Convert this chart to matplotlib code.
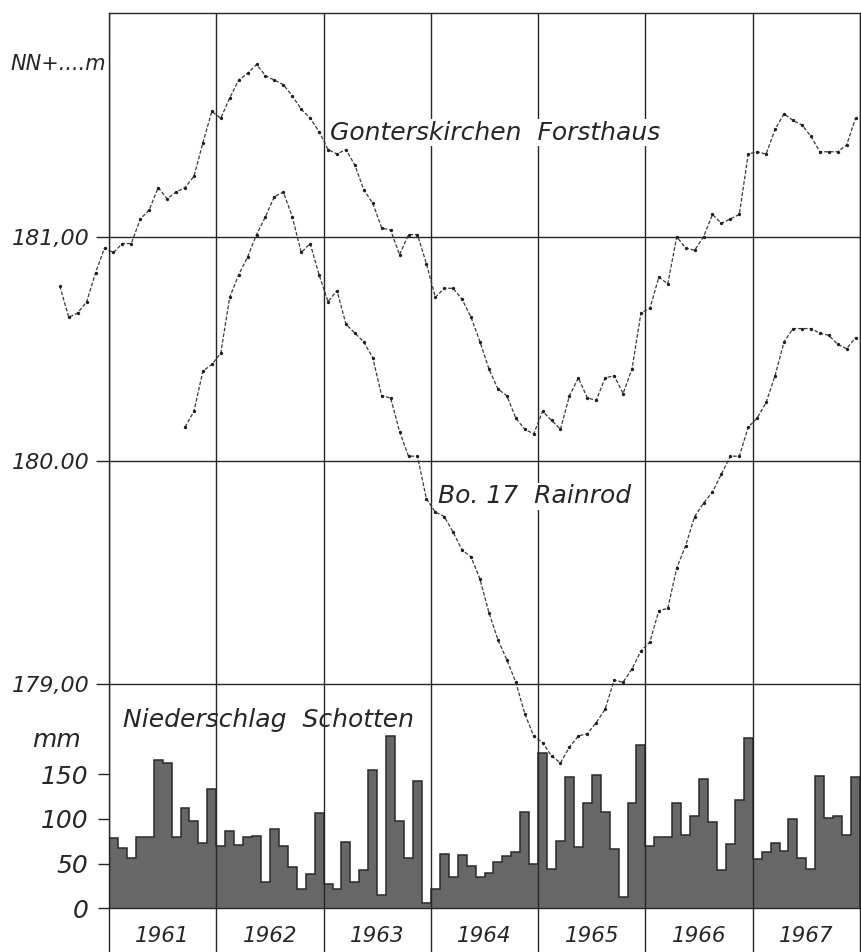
import matplotlib
matplotlib.use("Agg")
import matplotlib.pyplot as plt
import matplotlib.transforms as mtransforms
import numpy as np

plt.rcParams['font.family'] = ['DejaVu Sans']
plt.rcParams['font.style'] = 'italic'

# Grundwasserstand NN+ m, monatlich
gonter_start = 1960.5          # Juli 1960
gonter = [180.78, 180.64, 180.66, 180.71, 180.84, 180.95,
          180.93, 180.97, 180.97, 181.08, 181.12, 181.22, 181.17, 181.20, 181.22, 181.27, 181.42, 181.56,
          181.53, 181.62, 181.70, 181.73, 181.77, 181.72, 181.70, 181.68, 181.63, 181.57, 181.53, 181.47,
          181.39, 181.37, 181.39, 181.32, 181.21, 181.15, 181.04, 181.03, 180.92, 181.01, 181.01, 180.88,
          180.73, 180.77, 180.77, 180.72, 180.64, 180.53, 180.41, 180.32, 180.29, 180.19, 180.14, 180.12,
          180.22, 180.18, 180.14, 180.29, 180.37, 180.28, 180.27, 180.37, 180.38, 180.30, 180.41, 180.66,
          180.68, 180.82, 180.79, 181.00, 180.95, 180.94, 181.00, 181.10, 181.06, 181.08, 181.10, 181.37,
          181.38, 181.37, 181.48, 181.55, 181.52, 181.50, 181.45, 181.38, 181.38, 181.38, 181.41, 181.53]

rainrod_start = 1961 + 8 / 12  # Sept. 1961
rainrod = [180.15, 180.22, 180.40, 180.43,
           180.48, 180.73, 180.83, 180.91, 181.01, 181.09, 181.18, 181.20, 181.09, 180.93, 180.97, 180.83,
           180.71, 180.76, 180.61, 180.57, 180.53, 180.46, 180.29, 180.28, 180.13, 180.02, 180.02, 179.83,
           179.77, 179.75, 179.68, 179.60, 179.57, 179.47, 179.32, 179.20, 179.11, 179.01, 178.87, 178.77,
           178.74, 178.68, 178.65, 178.72, 178.77, 178.78, 178.83, 178.89, 179.02, 179.01, 179.07, 179.15,
           179.19, 179.33, 179.34, 179.52, 179.62, 179.75, 179.81, 179.86, 179.94, 180.02, 180.02, 180.15,
           180.19, 180.26, 180.38, 180.53, 180.59, 180.59, 180.59, 180.57, 180.56, 180.52, 180.50, 180.55]

# Niederschlag Schotten, mm pro Monat 1961-1967
precip_start = 1961.0
precip = [78, 67, 56, 80, 80, 166, 162, 80, 112, 98, 73, 133,
          70, 86, 71, 80, 81, 29, 89, 70, 46, 21, 38, 107,
          27, 21, 74, 29, 43, 155, 15, 192, 98, 56, 142, 6,
          21, 61, 35, 60, 47, 35, 39, 52, 58, 63, 108, 50,
          174, 44, 75, 147, 69, 118, 149, 108, 66, 13, 118, 182,
          70, 80, 80, 118, 82, 103, 144, 96, 43, 72, 121, 190,
          55, 63, 73, 64, 100, 56, 44, 148, 101, 103, 82, 147]

years = list(range(1961, 1969))
level_ticks = [179, 180, 181]
level_labels = ['179,00', '180.00', '181,00']
mm_ticks = [0, 50, 100, 150]


def month_x(start, n, mid=True):
    off = 0.5 if mid else 0.0
    return start + (np.arange(n) + off) / 12


fig = plt.figure(figsize=(8.61, 9.52), dpi=100)
ax = fig.add_axes([109 / 861, 43.7 / 952, 751 / 861, 895.3 / 952])
ax2 = ax.twinx()
ax.set_zorder(2)
ax2.set_zorder(1)
ax.patch.set_visible(False)

ink = '#262626'

# Niederschlag als Treppenflaeche
edges = month_x(precip_start, len(precip) + 1, mid=False)
ax2.stairs(precip, edges, fill=True, color='#676767', lw=0)
ax2.stairs(precip, edges, color='#2a2a2a', lw=1.1, baseline=0)
ax2.set_ylim(0, 1000)
ax2.yaxis.tick_left()
ax2.set_yticks(mm_ticks)
ax2.tick_params(axis='y', length=8, width=1, pad=7, labelsize=18, colors=ink)
for s in ax2.spines.values():
    s.set_visible(False)

# Grundwasserganglinien
line_kw = dict(color='#3a3a3a', lw=0.9, linestyle=(0, (3, 1.5)), marker='o', ms=2.4,
               mfc='#1e1e1e', mec='none', clip_on=False)
ax.plot(month_x(gonter_start, len(gonter)), gonter, **line_kw)
ax.plot(month_x(rainrod_start, len(rainrod)), rainrod, **line_kw)

ax.set_xlim(1961, 1968)
ax.set_ylim(178, 182)
ax.set_yticks(level_ticks, level_labels)
ax.set_xticks(years, [''] * len(years))
ax.tick_params(axis='y', length=9.4, width=1, pad=4.3, labelsize=16, colors=ink)
ax.tick_params(axis='x', length=31.5, width=1, direction='out', colors=ink)
ax.grid(True, color=ink, lw=1.0)
for s in ax.spines.values():
    s.set_color(ink)
    s.set_linewidth(1.0)

# Jahreszahlen
for y in years[:-1]:
    ax.text(y + 0.5, -0.031, str(y), transform=mtransforms.blended_transform_factory(ax.transData, ax.transAxes),
            ha='center', va='center', fontsize=15.5, color=ink)

# Beschriftungen
blend_lvl = mtransforms.blended_transform_factory(ax.transAxes, ax.transData)
ax.text(-0.004, 181.77, 'NN+....m', transform=blend_lvl, ha='right', va='center', fontsize=15, color=ink)
blend_mm = mtransforms.blended_transform_factory(ax2.transAxes, ax2.transData)
ax2.text(-0.038, 188, 'mm', transform=blend_mm, ha='right', va='center', fontsize=18, color=ink)

ax.text(1963.06, 181.466, 'Gonterskirchen  Forsthaus', ha='left', va='center', fontsize=18, color=ink,
        bbox=dict(facecolor='white', edgecolor='none', pad=1))
ax.text(1964.066, 179.84, 'Bo. 17  Rainrod', ha='left', va='center', fontsize=18, color=ink,
        bbox=dict(facecolor='white', edgecolor='none', pad=1))
ax2.text(1961.13, 210, 'Niederschlag  Schotten', ha='left', va='center', fontsize=18, color=ink)

fig.savefig('out.png', dpi=100)
